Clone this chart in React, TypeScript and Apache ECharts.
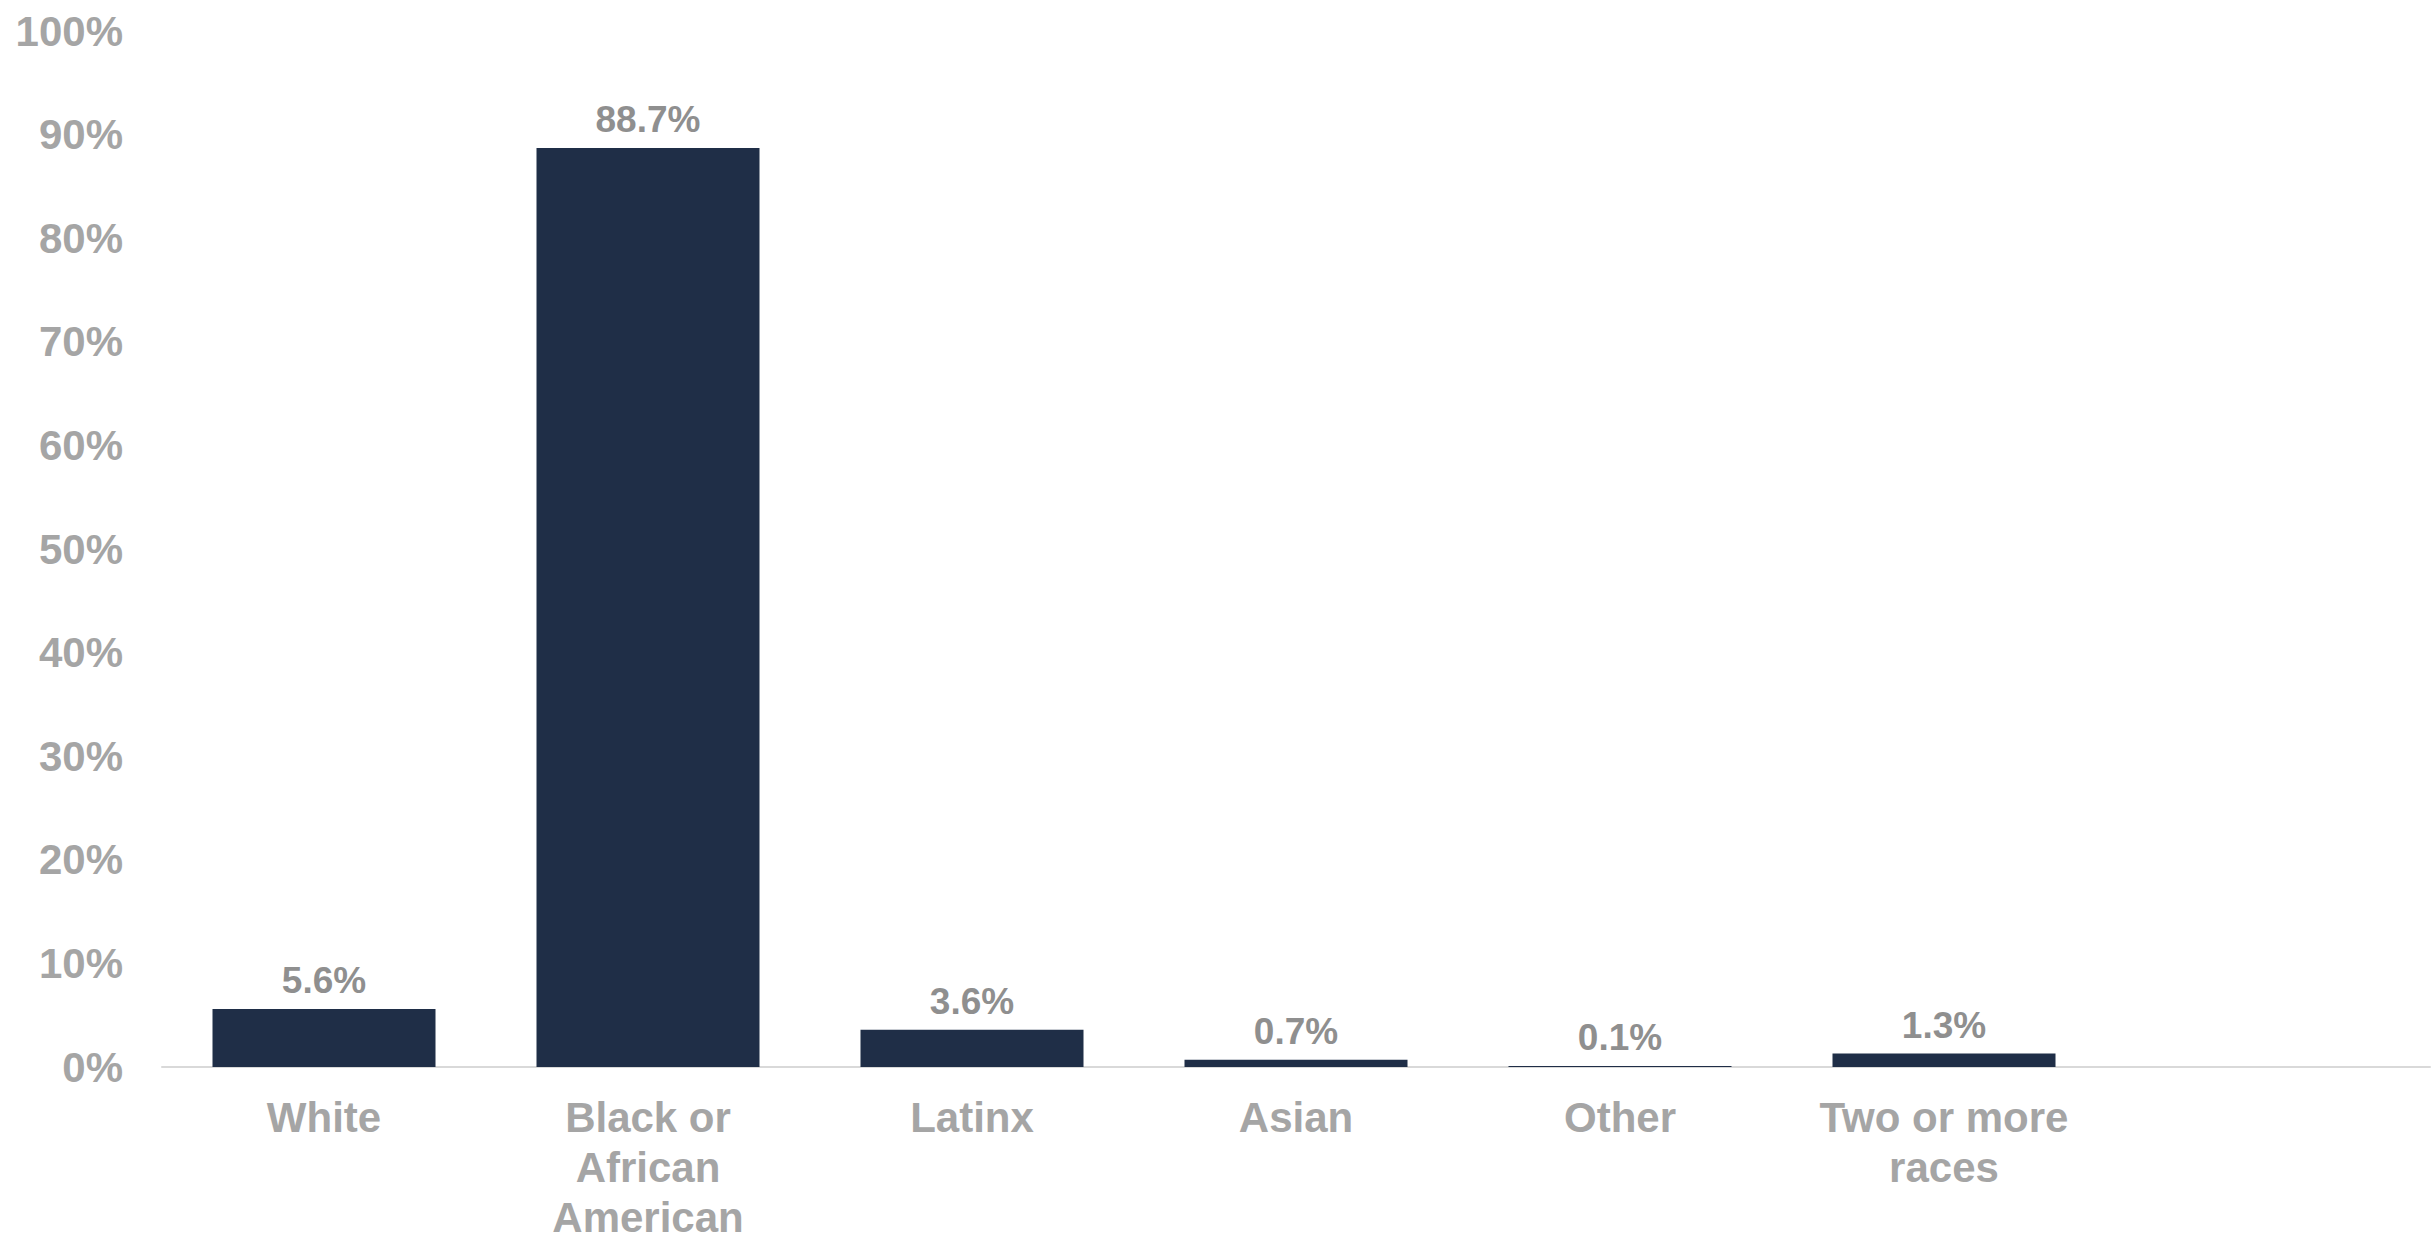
import React, { useEffect, useRef } from "react";
import * as echarts from "echarts";

const categories = ["White", "Black or\nAfrican\nAmerican", "Latinx", "Asian", "Other", "Two or more\nraces", ""];
const values: (number | string)[] = [5.6, 88.7, 3.6, 0.7, 0.1, 1.3, "-"];
const yTicks = { min: 0, max: 100, interval: 10 };

const FONT = "'Liberation Sans', Arial, sans-serif";

export default function App() {
  const ref = useRef<HTMLDivElement>(null);
  useEffect(() => {
    document.body.style.margin = "0";
    if (!ref.current) return;
    const chart = echarts.init(ref.current, null, { renderer: "svg" });
    chart.setOption({
      animation: false,
      backgroundColor: "#ffffff",
      grid: { left: 162, right: 5, top: 31, bottom: 168, containLabel: false },
      xAxis: {
        type: "category",
        data: categories,
        axisLine: { show: true, lineStyle: { color: "#D9D9D9", width: 2 } },
        axisTick: { show: false },
        axisLabel: {
          interval: 0,
          margin: 25,
          color: "#A5A5A5",
          fontFamily: FONT,
          fontWeight: "bold",
          fontSize: 42,
          lineHeight: 50,
        },
      },
      yAxis: {
        type: "value",
        min: yTicks.min,
        max: yTicks.max,
        interval: yTicks.interval,
        axisLine: { show: false },
        axisTick: { show: false },
        splitLine: { show: false },
        axisLabel: {
          formatter: "{value}%",
          margin: 39,
          color: "#A5A5A5",
          fontFamily: FONT,
          fontWeight: "bold",
          fontSize: 42,
        },
      },
      series: [
        {
          type: "bar",
          data: values,
          barWidth: 223,
          itemStyle: { color: "#1F2E47" },
          label: {
            show: true,
            position: "top",
            distance: 10,
            formatter: (p: any) => `${Number(p.value).toFixed(1)}%`,
            color: "#8F8F8F",
            fontFamily: FONT,
            fontWeight: "bold",
            fontSize: 37,
          },
        },
      ],
    });
    return () => chart.dispose();
  }, []);
  return <div ref={ref} style={{ width: 2435, height: 1242 }} />;
}
